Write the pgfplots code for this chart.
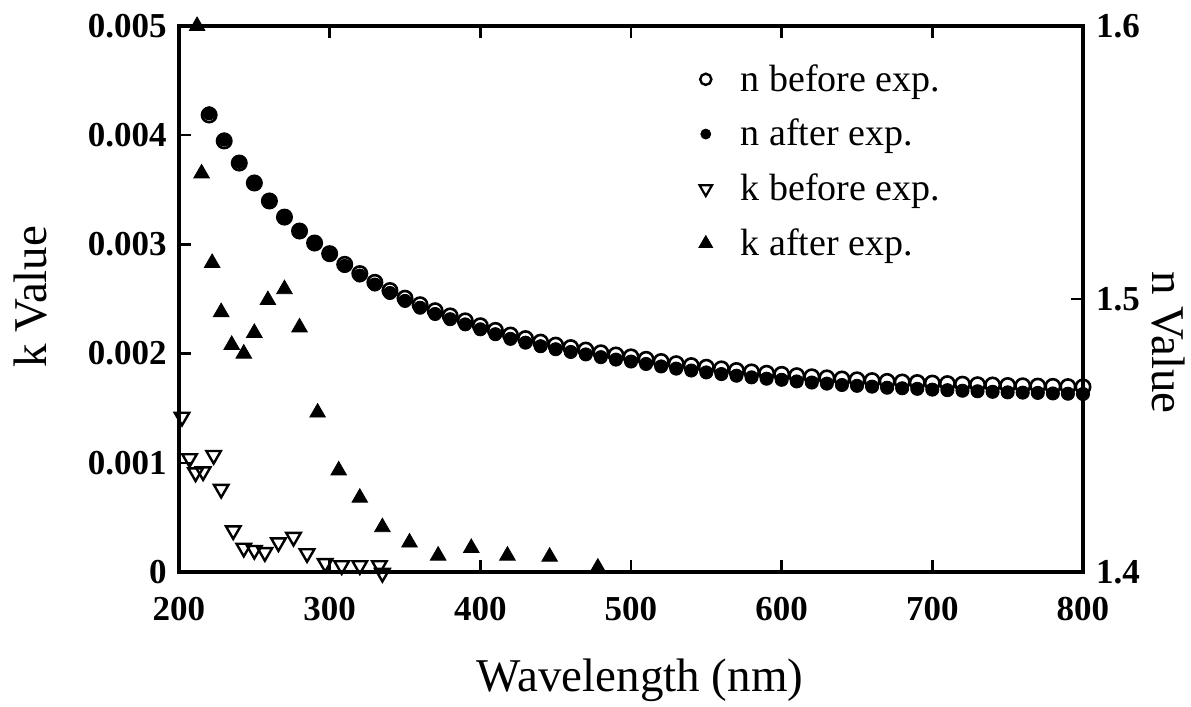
\documentclass[border=0pt]{standalone}
\usepackage{pgfplots}
\pgfplotsset{compat=1.18}
\usepackage{pgfplotstable}
\usepackage{fontspec}
\setmainfont{Liberation Serif}

% extinction coefficient k, before and after exposure
\pgfplotstableread{
lambda k
202 0.00142
207 0.00104
211 0.00091
216 0.00092
223 0.00107
228 0.00076
236 0.00038
243 0.00022
250 0.00020
257 0.00018
266 0.00027
276 0.00032
285 0.00017
297 0.00008
308 0.00006
320 0.00006
333 0.00006
335 -0.00001
}\kbefore

\pgfplotstableread{
lambda k
212 0.00500
215 0.00365
222 0.00283
228 0.00238
235 0.00208
243 0.00200
250 0.00219
259 0.00249
270 0.00259
280 0.00224
292 0.00146
306 0.00093
320 0.00068
335 0.00041
353 0.00027
372 0.00015
394 0.00022
418 0.00015
446 0.00014
478 0.00004
}\kafter

% refractive index n, before and after exposure
\pgfplotstableread{
lambda nb na
220 1.5674 1.5680
230 1.5579 1.5584
240 1.5498 1.5502
250 1.5425 1.5428
260 1.5359 1.5361
270 1.5300 1.5301
280 1.5249 1.5249
290 1.5205 1.5203
300 1.5166 1.5162
310 1.5127 1.5121
320 1.5093 1.5086
330 1.5061 1.5053
340 1.5031 1.5022
350 1.5003 1.4993
360 1.4979 1.4968
370 1.4957 1.4945
380 1.4938 1.4926
390 1.4920 1.4907
400 1.4902 1.4889
410 1.4885 1.4871
420 1.4868 1.4854
430 1.4855 1.4840
440 1.4842 1.4827
450 1.4831 1.4816
460 1.4822 1.4806
470 1.4813 1.4797
480 1.4803 1.4787
490 1.4795 1.4778
500 1.4788 1.4771
510 1.4779 1.4762
520 1.4771 1.4753
530 1.4763 1.4745
540 1.4756 1.4738
550 1.4750 1.4731
560 1.4744 1.4725
570 1.4738 1.4719
580 1.4733 1.4713
590 1.4728 1.4708
600 1.4724 1.4704
610 1.4719 1.4698
620 1.4715 1.4694
630 1.4711 1.4690
640 1.4707 1.4685
650 1.4704 1.4682
660 1.4701 1.4679
670 1.4698 1.4675
680 1.4696 1.4673
690 1.4694 1.4671
700 1.4692 1.4668
710 1.4690 1.4666
720 1.4688 1.4664
730 1.4686 1.4662
740 1.4685 1.4660
750 1.4683 1.4658
760 1.4682 1.4657
770 1.4681 1.4656
780 1.4680 1.4654
790 1.4679 1.4653
800 1.4678 1.4652
}\ntab

\pgfplotsset{
  frame/.style={
    scale only axis, width=452pt, height=273pt,
    at={(0,0)}, anchor=south west,
    xmin=200, xmax=800, clip=false,
    scaled x ticks=false, scaled y ticks=false,
    axis line style={line width=1.6pt, line cap=rect},
    tick align=inside, major tick length=6pt,
    tick style={black, line width=1.2pt},
    /pgf/number format/assume math mode=true,
    ticklabel style={font=\bfseries\fontsize{17.5}{19}\selectfont},
    label style={font=\fontsize{23.5}{26}\selectfont},
  },
  kbef/.style={only marks, mark=triangle, mark size=4.2pt, line width=1.2pt,
    mark options={rotate=180, fill=white}},
  kaft/.style={only marks, mark=triangle*, mark size=4.5pt, line width=0.4pt},
  nbef/.style={only marks, mark=o, mark size=3.6pt, line width=1.3pt},
  naft/.style={only marks, mark=*, mark size=3.3pt, line width=0.4pt},
}

\begin{document}
\begin{tikzpicture}
\begin{axis}[frame,
  ymin=0, ymax=0.005,
  xtick={200,300,400,500,600,700,800},
  xticklabel pos=lower,
  ytick={0,0.001,0.002,0.003,0.004,0.005},
  yticklabels={0,0.001,0.002,0.003,0.004,0.005},
  ytick pos=left,
  xticklabel style={yshift=-9pt},
  yticklabel style={xshift=-2.7pt},
  xlabel={Wavelength (nm)},
  ylabel={k Value},
  xlabel style={at={(axis description cs:0.51,0)}, anchor=center, yshift=-54pt},
  ylabel style={at={(axis description cs:-0.164,0.504)}, anchor=center},
]
\addplot[kbef] table[x=lambda, y=k] {\kbefore};
\addplot[kaft] table[x=lambda, y=k] {\kafter};
\end{axis}

\begin{axis}[frame,
  ymin=1.4, ymax=1.6,
  axis x line=none, axis y line*=right,
  ytick={1.4,1.5,1.6},
  yticklabels={1.4,1.5,1.6},
  yticklabel style={xshift=3pt},
  ylabel={n Value},
  ylabel style={at={(axis description cs:1.094,0.42)}, anchor=center, rotate=180},
  legend style={at={(0.568,0.945)}, anchor=north west, draw=none, fill=none,
    font=\fontsize{19}{21}\selectfont, row sep=8.5pt,
    /tikz/every odd column/.append style={column sep=12pt}},
  legend cell align=left,
]
\addplot[nbef, forget plot] table[x=lambda, y=nb] {\ntab};
\addplot[naft, forget plot] table[x=lambda, y=na] {\ntab};
\addlegendimage{only marks, mark=o, mark size=2.8pt, line width=1.2pt}
\addlegendentry{n before exp.}
\addlegendimage{only marks, mark=*, mark size=2.5pt}
\addlegendentry{n after exp.}
\addlegendimage{only marks, mark=triangle, mark size=3.6pt, line width=1.1pt, mark options={rotate=180}}
\addlegendentry{k before exp.}
\addlegendimage{only marks, mark=triangle*, mark size=4pt}
\addlegendentry{k after exp.}
\end{axis}

\pgfresetboundingbox
\path[use as bounding box] (-89.5pt,-67.5pt) rectangle (506pt,286pt);
\end{tikzpicture}
\end{document}
